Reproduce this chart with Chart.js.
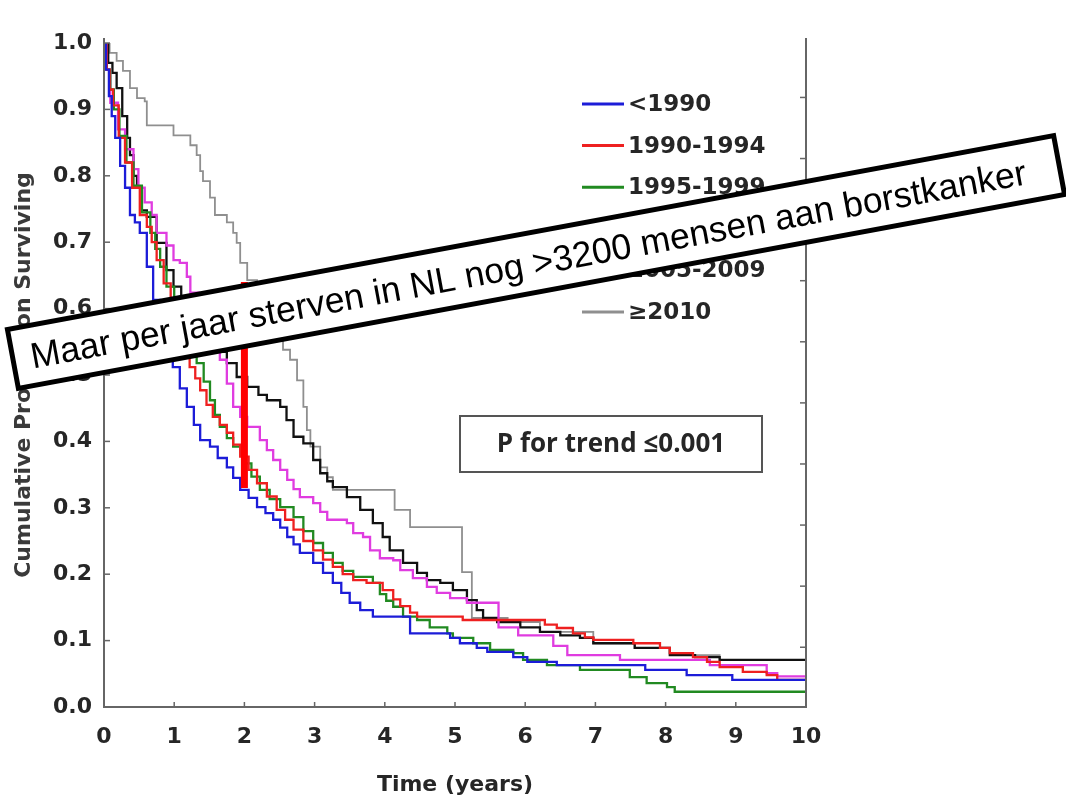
<!DOCTYPE html>
<html>
<head>
<meta charset="utf-8">
<script src="https://cdn.jsdelivr.net/npm/chart.js@4.4.1/dist/chart.umd.min.js"></script>
<style>
  html, body { margin: 0; padding: 0; background: #fff; }
  canvas { display: block; }
</style>
</head>
<body>
<canvas id="km-chart" width="1066" height="800" style="width:1066px;height:800px"></canvas>
<script>
/* ===== SURVIVAL BY PERIOD OF DIAGNOSIS ===== */

const seriesLabels = ['<1990', '1990-1994', '1995-1999', '2000-2004', '2005-2009', '\u22652010'];
const seriesColors = ['#1c1cd8', '#ee2020', '#218a21', '#e03ce0', '#111111', '#8f8f8f'];

// [time (years), cumulative proportion surviving]
const before1990 = [
  [0,1],[0.03,0.96],[0.07,0.92],[0.11,0.89],[0.16,0.857],[0.23,0.815],[0.30,0.782],[0.37,0.741],
  [0.44,0.73],[0.51,0.714],[0.61,0.663],[0.70,0.613],[0.80,0.575],[0.90,0.54],[0.98,0.512],[1.08,0.48],
  [1.18,0.452],[1.28,0.425],[1.37,0.402],[1.51,0.392],[1.62,0.375],[1.75,0.361],[1.84,0.345],[1.94,0.327],
  [2.06,0.315],[2.18,0.301],[2.30,0.292],[2.41,0.282],[2.51,0.27],[2.61,0.256],[2.70,0.245],[2.79,0.232],
  [2.98,0.217],[3.12,0.202],[3.26,0.187],[3.38,0.172],[3.50,0.157],[3.65,0.146],[3.83,0.136],[4.36,0.111],
  [4.93,0.104],[5.07,0.096],[5.31,0.089],[5.46,0.083],[5.83,0.075],[6.03,0.068],[6.45,0.063],[7.71,0.056],
  [8.30,0.048],[8.95,0.041],[10,0.041]
];
const p1990to1994 = [
  [0,1],[0.04,0.96],[0.08,0.93],[0.13,0.906],[0.21,0.857],[0.30,0.82],[0.40,0.782],[0.51,0.741],
  [0.61,0.723],[0.68,0.70],[0.75,0.673],[0.85,0.638],[0.95,0.60],[1.05,0.565],[1.14,0.535],[1.22,0.512],
  [1.30,0.495],[1.37,0.477],[1.46,0.455],[1.55,0.437],[1.65,0.425],[1.75,0.413],[1.84,0.395],[1.94,0.377],
  [2.06,0.357],[2.18,0.337],[2.32,0.317],[2.46,0.297],[2.58,0.282],[2.70,0.267],[2.84,0.25],[2.98,0.236],
  [3.12,0.222],[3.26,0.211],[3.40,0.20],[3.55,0.191],[3.74,0.187],[3.97,0.176],[4.12,0.162],[4.22,0.152],
  [4.36,0.142],[4.46,0.136],[5.11,0.131],[6.28,0.124],[6.45,0.119],[6.68,0.111],[6.85,0.105],[6.97,0.101],
  [7.54,0.096],[7.92,0.089],[8.06,0.081],[8.39,0.075],[8.59,0.068],[8.77,0.060],[9.10,0.053],[9.44,0.048],
  [9.59,0.041],[10,0.041]
];
const p1995to1999 = [
  [0,1],[0.04,0.96],[0.09,0.93],[0.14,0.90],[0.22,0.86],[0.32,0.82],[0.42,0.785],[0.54,0.745],
  [0.66,0.714],[0.73,0.69],[0.80,0.663],[0.89,0.633],[1.0,0.60],[1.1,0.57],[1.2,0.545],[1.32,0.518],
  [1.42,0.49],[1.51,0.462],[1.58,0.44],[1.65,0.422],[1.75,0.405],[1.84,0.392],[1.98,0.367],[2.10,0.347],
  [2.22,0.327],[2.36,0.313],[2.51,0.301],[2.70,0.286],[2.84,0.265],[2.98,0.247],[3.12,0.232],[3.26,0.217],
  [3.40,0.205],[3.55,0.196],[3.83,0.187],[3.93,0.17],[4.02,0.16],[4.12,0.151],[4.26,0.136],[4.46,0.131],
  [4.64,0.12],[4.89,0.111],[4.97,0.104],[5.26,0.096],[5.50,0.086],[5.83,0.081],[5.97,0.071],[6.31,0.063],
  [6.78,0.056],[7.49,0.045],[7.73,0.036],[8.02,0.030],[8.13,0.023],[10,0.023]
];
const p2000to2004 = [
  [0,1],[0.03,0.96],[0.09,0.91],[0.2,0.87],[0.3,0.84],[0.42,0.81],[0.49,0.782],[0.58,0.76],
  [0.68,0.741],[0.75,0.714],[0.89,0.695],[0.99,0.673],[1.08,0.669],[1.18,0.648],[1.23,0.624],[1.35,0.59],
  [1.45,0.56],[1.55,0.54],[1.65,0.523],[1.75,0.487],[1.84,0.452],[1.94,0.437],[2.04,0.422],[2.22,0.402],
  [2.32,0.387],[2.41,0.372],[2.51,0.357],[2.61,0.342],[2.70,0.328],[2.79,0.316],[2.98,0.307],[3.08,0.294],
  [3.18,0.282],[3.46,0.277],[3.55,0.262],[3.69,0.256],[3.79,0.236],[3.93,0.224],[4.12,0.221],[4.22,0.206],
  [4.40,0.194],[4.60,0.181],[4.74,0.172],[4.93,0.164],[5.17,0.157],[5.62,0.12],[5.90,0.108],[6.40,0.092],
  [6.60,0.078],[7.35,0.071],[8.63,0.063],[9.44,0.051],[9.59,0.046],[10,0.046]
];
const p2005to2009 = [
  [0,1],[0.06,0.97],[0.12,0.955],[0.18,0.932],[0.26,0.89],[0.33,0.857],[0.37,0.831],[0.42,0.80],
  [0.47,0.782],[0.54,0.748],[0.61,0.738],[0.75,0.699],[0.89,0.658],[0.99,0.633],[1.1,0.61],[1.2,0.59],
  [1.3,0.575],[1.4,0.56],[1.5,0.55],[1.62,0.535],[1.75,0.518],[1.89,0.497],[2.04,0.482],[2.20,0.47],
  [2.32,0.462],[2.51,0.452],[2.60,0.432],[2.70,0.407],[2.84,0.397],[2.98,0.372],[3.08,0.352],[3.18,0.34],
  [3.26,0.331],[3.46,0.316],[3.65,0.297],[3.83,0.277],[3.97,0.256],[4.07,0.236],[4.26,0.217],[4.46,0.202],
  [4.60,0.191],[4.79,0.187],[4.97,0.176],[5.17,0.161],[5.31,0.146],[5.40,0.134],[5.60,0.128],[5.93,0.12],
  [6.21,0.113],[6.50,0.108],[6.78,0.104],[6.97,0.096],[7.56,0.089],[8.06,0.078],[8.42,0.075],[8.77,0.071],
  [10,0.071]
];
const from2010 = [
  [0,1],[0.08,0.985],[0.18,0.973],[0.27,0.958],[0.37,0.932],[0.47,0.917],[0.58,0.912],[0.61,0.876],
  [0.99,0.861],[1.23,0.846],[1.32,0.831],[1.37,0.807],[1.41,0.792],[1.51,0.767],[1.58,0.741],[1.75,0.730],
  [1.84,0.714],[1.89,0.699],[1.94,0.669],[2.04,0.643],[2.18,0.638],[2.30,0.60],[2.42,0.57],[2.55,0.538],
  [2.65,0.523],[2.75,0.492],[2.84,0.452],[2.89,0.417],[2.94,0.392],[3.08,0.361],[3.18,0.346],[3.26,0.327],
  [4.14,0.297],[4.36,0.271],[5.10,0.203],[5.24,0.134],[5.75,0.128],[6.21,0.113],[6.97,0.096],[7.56,0.089],
  [8.06,0.078],[8.77,0.071],[10,0.071]
];

// red marker at 2 years
const markerLine = [[2, 0.64], [2, 0.33]];

// unlabelled ticks on the right border
const rightTicks = [0.09, 0.182, 0.274, 0.366, 0.458, 0.55, 0.642, 0.734, 0.826, 0.918];

const xTitle     = 'Time (years)';
const yTitle     = 'Cumulative Proportion Surviving';
const pTrendText = 'P for trend \u22640.001';
const bannerText = 'Maar per jaar sterven in NL nog >3200 mensen aan borstkanker';

const allSeries = [before1990, p1990to1994, p1995to1999, p2000to2004, p2005to2009, from2010];
const toXY = arr => arr.map(([x, y]) => ({ x, y }));

const textColor = '#262626';
const boldFont  = '"DejaVu Sans", "Liberation Sans", sans-serif';

const datasets = allSeries.map((s, i) => ({
  label: seriesLabels[i],
  data: toXY(s),
  borderColor: seriesColors[i],
  borderWidth: i === 5 ? 1.8 : 2.3,
  stepped: true,
  pointRadius: 0,
  fill: false,
}));

datasets.push({
  label: 'marker',
  data: toXY(markerLine),
  borderColor: '#ff0000',
  borderWidth: 7,
  borderCapStyle: 'butt',
  pointRadius: 0,
  order: -1,
});

function line(ctx, x1, y1, x2, y2) {
  ctx.beginPath();
  ctx.moveTo(x1, y1);
  ctx.lineTo(x2, y2);
  ctx.stroke();
}

const overlayPlugin = {
  id: 'overlay',
  beforeDraw(chart) {
    const ctx = chart.ctx;
    ctx.save();
    ctx.fillStyle = '#fff';
    ctx.fillRect(0, 0, chart.width, chart.height);
    ctx.restore();
  },
  afterDatasetsDraw(chart) {
    const { ctx, chartArea: a, scales: { x, y } } = chart;
    ctx.save();

    // frame (no top edge)
    ctx.strokeStyle = '#666';
    ctx.lineWidth = 2;
    ctx.beginPath();
    ctx.moveTo(a.left, a.top - 5);
    ctx.lineTo(a.left, a.bottom);
    ctx.lineTo(a.right, a.bottom);
    ctx.lineTo(a.right, a.top - 5);
    ctx.stroke();

    // inward ticks
    ctx.lineWidth = 1.5;
    y.ticks.forEach(t => {
      const py = y.getPixelForValue(t.value);
      line(ctx, a.left, py, a.left + 6, py);
    });
    x.ticks.forEach(t => {
      const px = x.getPixelForValue(t.value);
      line(ctx, px, a.bottom, px, a.bottom - 5);
    });
    rightTicks.forEach(v => {
      const py = y.getPixelForValue(v);
      line(ctx, a.right, py, a.right - 6, py);
    });

    // P for trend box
    ctx.fillStyle = '#fff';
    ctx.fillRect(460, 416, 302, 56);
    ctx.strokeStyle = '#555';
    ctx.lineWidth = 2;
    ctx.strokeRect(460, 416, 302, 56);
    ctx.fillStyle = textColor;
    ctx.font = '700 26px "Open Sans", Lato, sans-serif';
    ctx.textAlign = 'center';
    ctx.textBaseline = 'middle';
    ctx.fillText(pTrendText, 611, 445);

    // legend
    ctx.font = '700 23px ' + boldFont;
    ctx.textAlign = 'left';
    seriesLabels.forEach((lab, i) => {
      const ly = 104 + i * 41.6;
      ctx.strokeStyle = seriesColors[i];
      ctx.lineWidth = 3;
      line(ctx, 582, ly, 624, ly);
      ctx.fillStyle = textColor;
      ctx.fillText(lab, 628, ly + 1);
    });

    ctx.restore();
  },
  afterDraw(chart) {
    const ctx = chart.ctx;
    ctx.save();
    ctx.translate(536, 262);
    ctx.rotate(-10.5 * Math.PI / 180);
    ctx.fillStyle = '#fff';
    ctx.fillRect(-532, -30, 1064, 60);
    ctx.strokeStyle = '#000';
    ctx.lineWidth = 5;
    ctx.strokeRect(-532, -30, 1064, 60);
    ctx.fillStyle = '#000';
    ctx.font = '36px "Liberation Sans", Arial, sans-serif';
    ctx.textAlign = 'center';
    ctx.textBaseline = 'alphabetic';
    ctx.fillText(bannerText, -8, 13, 1012);
    ctx.restore();
  },
};

new Chart(document.getElementById('km-chart'), {
  type: 'line',
  data: { datasets },
  options: {
    responsive: false,
    animation: false,
    layout: { padding: { left: 0, right: 260, top: 43, bottom: 0 } },
    plugins: {
      legend: { display: false },
      tooltip: { enabled: false },
    },
    scales: {
      x: {
        type: 'linear',
        min: 0,
        max: 10,
        ticks: {
          stepSize: 1,
          padding: 17,
          color: textColor,
          font: { family: boldFont, size: 22, weight: 'bold' },
        },
        grid: { display: false, drawTicks: false },
        border: { display: false },
        title: {
          display: true,
          text: xTitle,
          color: textColor,
          font: { family: boldFont, size: 22, weight: 'bold' },
          padding: { top: 0, bottom: 2 },
        },
        afterFit: s => { s.height = 93; },
      },
      y: {
        type: 'linear',
        min: 0,
        max: 1,
        ticks: {
          stepSize: 0.1,
          padding: 12,
          color: textColor,
          font: { family: boldFont, size: 22, weight: 'bold' },
          callback: v => v.toFixed(1),
        },
        grid: { display: false, drawTicks: false },
        border: { display: false },
        title: {
          display: true,
          text: yTitle,
          color: '#3a3a3a',
          font: { family: boldFont, size: 22, weight: 'bold' },
          padding: { top: 11, bottom: 0 },
        },
        afterFit: s => { s.width = 104; },
      },
    },
  },
  plugins: [overlayPlugin],
});
</script>
</body>
</html>
